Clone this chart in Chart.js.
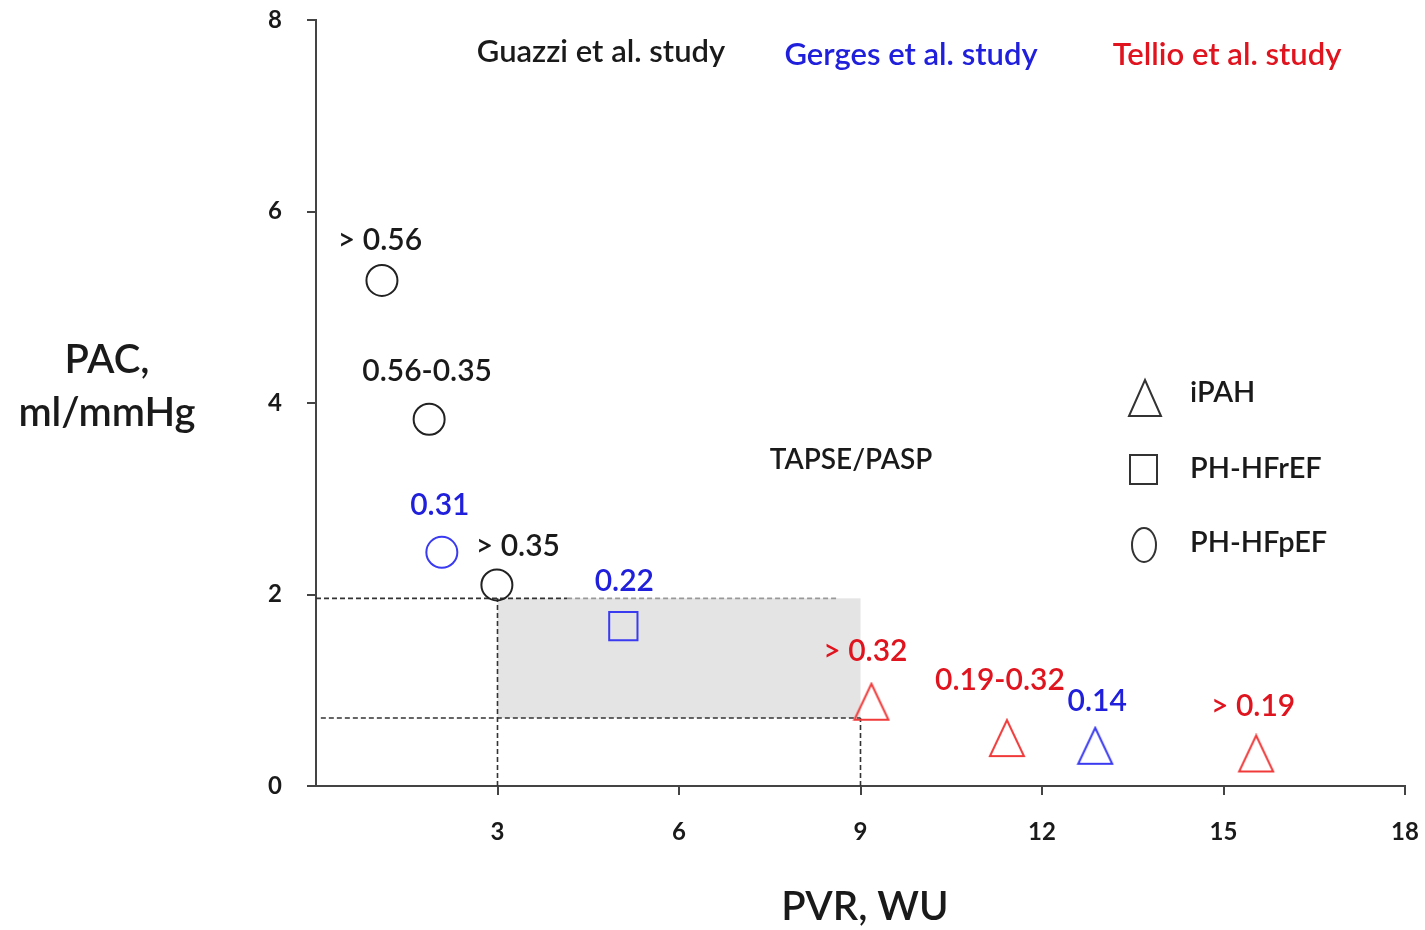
<!DOCTYPE html>
<html>
<head>
<meta charset="utf-8">
<script src="https://cdn.jsdelivr.net/npm/chart.js@4.4.0/dist/chart.umd.min.js"></script>
<style>
  html, body { margin: 0; padding: 0; background: #fff; }
  #wrap { width: 1425px; height: 930px; }
</style>
</head>
<body>
<div id="wrap"><canvas id="pac_pvr" width="1425" height="930"></canvas></div>
<script>
// PVR (WU) on x, PAC (ml/mmHg) on y, TAPSE/PASP cut-offs as labels
var guazziPvr = [1.09, 1.87, 2.99];
var guazziPac = [5.28, 3.83, 2.10];
var guazziLabels = ['> 0.56', '0.56-0.35', '> 0.35'];

var gergesPvr = [2.08, 5.08, 12.88];
var gergesPac = [2.44, 1.67, 0.42];
var gergesLabels = ['0.31', '0.22', '0.14'];

var tellioPvr = [9.18, 11.42, 15.54];
var tellioPac = [0.88, 0.50, 0.34];
var tellioLabels = ['> 0.32', '0.19-0.32', '> 0.19'];

// shaded TAPSE/PASP window
var boxPvr = [3, 9];
var boxPac = [0.71, 1.96];

var xTicks = [3, 6, 9, 12, 15, 18];
var yTicks = [0, 2, 4, 6, 8];

var BLUE = '#2020dc', RED = '#e0141e', INK = '#1a1a1a';
var FONT = 'Lato, "Open Sans", sans-serif';

function pts(xs, ys) {
  return xs.map(function (x, i) { return { x: x, y: ys[i] }; });
}

// taller-than-equilateral open triangle used as point marker
function triangleIcon(color, w, h) {
  var c = document.createElement('canvas');
  c.width = w + 4; c.height = h + 4;
  var g = c.getContext('2d');
  g.strokeStyle = color; g.lineWidth = 2;
  g.beginPath();
  g.moveTo(c.width / 2, 2);
  g.lineTo(c.width - 2, c.height - 2);
  g.lineTo(2, c.height - 2);
  g.closePath();
  g.stroke();
  return c;
}
var redTri = triangleIcon('#f03a3a', 34, 36);
var blueTri = triangleIcon('#3a3af0', 34, 36);

function dashed(ctx, x1, y1, x2, y2, color) {
  ctx.save();
  ctx.strokeStyle = color;
  ctx.lineWidth = 1.6;
  ctx.setLineDash([5, 3]);
  ctx.beginPath();
  ctx.moveTo(x1, y1);
  ctx.lineTo(x2, y2);
  ctx.stroke();
  ctx.restore();
}

var decorations = {
  id: 'decorations',
  beforeDatasetsDraw: function (chart) {
    var ctx = chart.ctx, xs = chart.scales.x, ys = chart.scales.y;
    var x0 = xs.getPixelForValue(0), x3 = xs.getPixelForValue(boxPvr[0]), x9 = xs.getPixelForValue(boxPvr[1]);
    var yLo = ys.getPixelForValue(boxPac[0]), yHi = ys.getPixelForValue(boxPac[1]), yB = ys.getPixelForValue(0);
    ctx.save();
    ctx.fillStyle = '#e4e4e4';
    ctx.fillRect(x3, yHi, x9 - x3, yLo - yHi);
    ctx.restore();
    dashed(ctx, x0, yHi, xs.getPixelForValue(4.15), yHi, '#333');
    dashed(ctx, xs.getPixelForValue(4.15), yHi, xs.getPixelForValue(8.62), yHi, '#999');
    dashed(ctx, xs.getPixelForValue(0.08), yLo, x9, yLo, '#333');
    dashed(ctx, x3, yB, x3, yHi, '#333');
    dashed(ctx, x9, yB, x9, yLo, '#333');
  },
  afterDatasetsDraw: function (chart) {
    var ctx = chart.ctx;
    ctx.save();
    ctx.textAlign = 'center';
    ctx.textBaseline = 'middle';

    // value labels above each marker
    ctx.font = '600 30px ' + FONT;
    chart.data.datasets.forEach(function (ds, di) {
      var meta = chart.getDatasetMeta(di);
      meta.data.forEach(function (p, i) {
        var off = ds.labelShift[i];
        ctx.fillStyle = ds.labelColor;
        ctx.fillText(ds.valueLabels[i], p.x + off[0], p.y + off[1]);
      });
    });

    // study headings
    ctx.font = '600 31px ' + FONT;
    ctx.fillStyle = INK;  ctx.fillText('Guazzi et al. study', 601, 52);
    ctx.fillStyle = BLUE; ctx.fillText('Gerges et al. study', 911, 55);
    ctx.fillStyle = RED;  ctx.fillText('Tellio et al. study', 1227, 55);

    ctx.fillStyle = INK;
    ctx.font = '600 28px ' + FONT;
    ctx.fillText('TAPSE/PASP', 851, 460);

    // axis titles
    ctx.font = '600 40px ' + FONT;
    ctx.fillText('PAC,', 107, 360);
    ctx.fillText('ml/mmHg', 107, 413);
    ctx.fillText('PVR, WU', 865, 907);

    // marker legend
    ctx.strokeStyle = '#333';
    ctx.lineWidth = 2;
    ctx.beginPath();
    ctx.moveTo(1145, 380); ctx.lineTo(1161, 416); ctx.lineTo(1129, 416); ctx.closePath();
    ctx.stroke();
    ctx.strokeRect(1130, 455, 27, 29);
    ctx.beginPath();
    ctx.ellipse(1144, 545, 12, 17, 0, 0, Math.PI * 2);
    ctx.stroke();
    ctx.textAlign = 'left';
    ctx.font = '600 29px ' + FONT;
    ctx.fillText('iPAH', 1190, 393);
    ctx.fillText('PH-HFrEF', 1190, 469);
    ctx.fillText('PH-HFpEF', 1190, 543);
    ctx.restore();
  }
};

var tickFont = { family: FONT, size: 24, weight: 'bold' };

new Chart(document.getElementById('pac_pvr').getContext('2d'), {
  type: 'scatter',
  data: {
    datasets: [{
      label: 'Guazzi',
      data: pts(guazziPvr, guazziPac),
      pointStyle: 'circle',
      pointRadius: 15.5,
      borderColor: '#222',
      borderWidth: 2,
      backgroundColor: 'rgba(0,0,0,0)',
      valueLabels: guazziLabels,
      labelColor: INK,
      labelShift: [[-2, -40], [-2, -48], [21, -39]],
    }, {
      label: 'Gerges',
      data: pts(gergesPvr, gergesPac),
      pointStyle: ['circle', 'rect', blueTri],
      pointRadius: [15.5, 20, 18],
      borderColor: '#3a3af0',
      borderWidth: 2,
      backgroundColor: 'rgba(0,0,0,0)',
      valueLabels: gergesLabels,
      labelColor: BLUE,
      labelShift: [[-2, -47], [1, -45], [2, -44]],
    }, {
      label: 'Tellio',
      data: pts(tellioPvr, tellioPac),
      pointStyle: redTri,
      pointRadius: 18,
      borderColor: '#f03a3a',
      valueLabels: tellioLabels,
      labelColor: RED,
      labelShift: [[-6, -50], [-7, -58], [-3, -47]],
    }],
  },
  options: {
    responsive: false,
    animation: false,
    events: [],
    layout: { autoPadding: false, padding: { top: 20, right: 20, left: 0, bottom: 0 } },
    plugins: { legend: { display: false }, tooltip: { enabled: false } },
    scales: {
      x: {
        type: 'linear',
        min: 0,
        max: 18,
        afterBuildTicks: function (scale) {
          scale.ticks = xTicks.map(function (v) { return { value: v }; });
        },
        afterFit: function (scale) {
          scale.height = 144;
          scale.paddingLeft = 0;
          scale.paddingRight = 0;
        },
        grid: { drawOnChartArea: false, drawTicks: true, tickLength: 9, color: '#444', lineWidth: 2 },
        border: { color: '#444', width: 2 },
        ticks: { color: INK, font: tickFont, padding: 23, maxRotation: 0 },
      },
      y: {
        min: 0,
        max: 8,
        afterBuildTicks: function (scale) {
          scale.ticks = yTicks.map(function (v) { return { value: v }; });
        },
        afterFit: function (scale) {
          scale.width = 316;
          scale.paddingTop = 0;
          scale.paddingBottom = 0;
        },
        grid: { drawOnChartArea: false, drawTicks: true, tickLength: 9, color: '#444', lineWidth: 2 },
        border: { color: '#444', width: 2 },
        ticks: { color: INK, font: tickFont, padding: 25 },
      },
    },
  },
  plugins: [decorations],
});
</script>
</body>
</html>
